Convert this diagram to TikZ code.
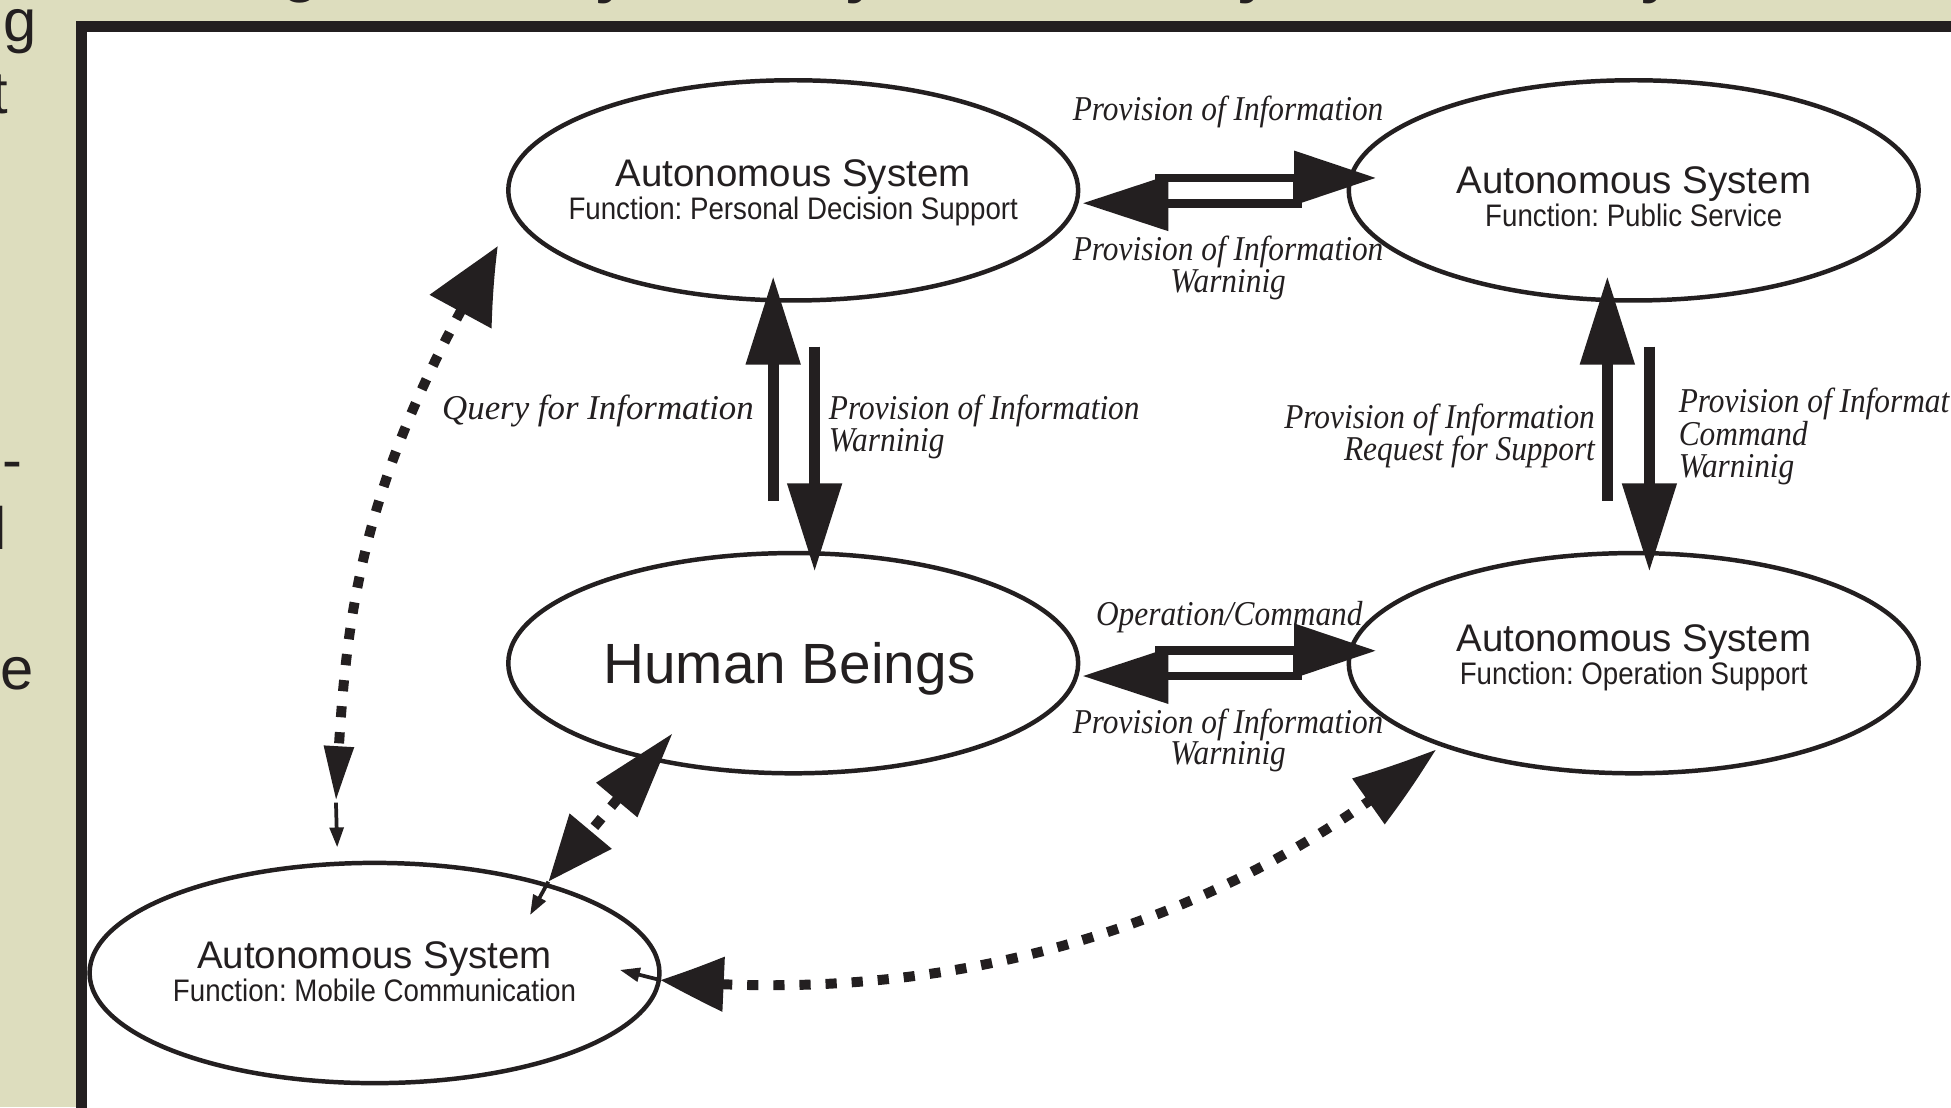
\documentclass[tikz,border=0pt]{standalone}
\usepackage{fontspec}
\setmainfont{Liberation Sans}
\newfontfamily\hsans{Liberation Sans}
\newfontfamily\hcond[FakeStretch=0.89]{Liberation Sans}
\newfontfamily\lserif[FakeStretch=0.9]{Liberation Serif}
\newfontfamily\lserifw{Liberation Serif}
\usetikzlibrary{arrows.meta,bending,shapes.geometric}
\definecolor{ink}{RGB}{35,31,32}
\definecolor{paper}{RGB}{221,221,190}
\newcommand\asys{\hsans\fontsize{30.9}{26.5}\selectfont}
\frenchspacing
\begin{document}
\frenchspacing
\begin{tikzpicture}[x=1pt,y=-1pt,line join=miter,
  sys/.style={ellipse, draw=ink, line width=3.6pt, minimum width=458pt, minimum height=177pt, inner sep=0pt},
  systext/.style={inner sep=0pt, align=center, text=ink, font=\frenchspacing\hcond\fontsize{25}{26.5}\selectfont},
  lbl/.style={inner sep=0pt, text=ink, font=\lserif\itshape\fontsize{28}{26}\selectfont},
  frag/.style={inner sep=0pt, text=ink, font=\hsans\fontsize{48}{57}\selectfont},
  shaft/.style={draw=ink, line width=8.6pt, -{Triangle[length=71pt,width=42pt]}},
  hollow/.style={draw=ink, line width=7pt},
  link/.style={draw=ink, line width=8pt, dash pattern=on 9pt off 12pt},
  spike/.style={draw=ink, line width=3pt, -{Triangle[length=16pt,width=11pt]}}]
\useasboundingbox (0,0) rectangle (1568,890);
\clip (0,0) rectangle (1568,890);
\fill[paper] (0,0) rectangle (1568,890);
\fill[white] (65.3,21) rectangle (1600,950);
\draw[ink, line width=8.7pt] (65.3,950) -- (65.3,21) -- (1600,21);

% cut-off text of the surrounding page
\node[frag, anchor=base east] (fg) at (30,33.5) {g};
\node[frag, anchor=base east] (ft) at (6.9,91) {t};
\node[frag, anchor=base east] (fh) at (18.2,386) {o-};
\node[frag, anchor=base east] (fl) at (6,442) {l};
\node[frag, anchor=base east] (fe) at (27.5,554) {e};
\node[frag, font=\hsans\bfseries\fontsize{48}{57}\selectfont, anchor=base] (t1) at (242,-8) {g};
\node[frag, font=\hsans\bfseries\fontsize{48}{57}\selectfont, anchor=base] (t2) at (492,-7) {y};
\node[frag, font=\hsans\bfseries\fontsize{48}{57}\selectfont, anchor=base] (t3) at (693,-7) {y};
\node[frag, font=\hsans\bfseries\fontsize{48}{57}\selectfont, anchor=base] (t4) at (1008,-7) {y};
\node[frag, font=\hsans\bfseries\fontsize{48}{57}\selectfont, anchor=base] (t5) at (1332,-7) {y};

% systems
\node[sys] (pds) at (637.5,153) {};
\node[sys] (ps) at (1313,153) {};
\node[sys] (hb) at (637.5,533) {};
\node[sys] (os) at (1313,533) {};
\node[sys] (mc) at (301,782) {};
\node[systext] (pdsT) at ([yshift=-2pt]pds.center) {{\asys Autonomous System}\\Function: Personal Decision Support};
\node[systext] (psT) at ([yshift=-5pt]ps.center) {{\asys Autonomous System}\\Function: Public Service};
\node[systext, font=\hsans\fontsize{45.6}{50}\selectfont, text depth=0pt] (hbT) at ([xshift=-3pt]hb.center) {Human Beings};
\node[systext] (osT) at ([yshift=4pt]os.center) {{\asys Autonomous System}\\Function: Operation Support};
\node[systext] (mcT) at ([yshift=1pt]mc.center) {{\asys Autonomous System}\\Function: Mobile Communication};

% labels
\node[lbl, anchor=base] (l1) at (987,97) {Provision of Information};
\node[lbl, anchor=base] (l2a) at (987,209) {Provision of Information};
\node[lbl, anchor=base] (l2b) at (987,235) {Warninig};
\node[lbl, anchor=base east, font=\lserifw\itshape\fontsize{28}{26}\selectfont] (l3) at (606,337) {Query for Information};
\node[lbl, anchor=base west] (l4a) at (666,337) {Provision of Information};
\node[lbl, anchor=base west] (l4b) at (666,363) {Warninig};
\node[lbl, anchor=base east] (l5a) at (1282,344) {Provision of Information};
\node[lbl, anchor=base east] (l5b) at (1282,370.5) {Request for Support};
\node[lbl, anchor=base west] (l6a) at (1349,331.4) {Provision of Information};
\node[lbl, anchor=base west] (l6b) at (1349,358) {Command};
\node[lbl, anchor=base west] (l6c) at (1349,383.6) {Warninig};
\node[lbl, anchor=base] (l7) at (988,503) {Operation/Command};
\node[lbl, anchor=base] (l8a) at (987,589.3) {Provision of Information};
\node[lbl, anchor=base] (l8b) at (987,614.8) {Warninig};

% vertical arrows
\coordinate (a1s) at (621.4,402.7);  \coordinate (a1e) at (621.4,222);
\coordinate (a2s) at (654.7,278.6);  \coordinate (a2e) at (654.7,459.4);
\coordinate (a3s) at (1291.8,402.6); \coordinate (a3e) at (1291.8,222);
\coordinate (a4s) at (1325.6,278.6); \coordinate (a4e) at (1325.6,459.4);
\draw[shaft] (a1s) -- (a1e);
\draw[shaft] (a2s) -- (a2e);
\draw[shaft] (a3s) -- (a3e);
\draw[shaft] (a4s) -- (a4e);

% hollow double arrows
\coordinate (h1a) at (932,163.3);  \coordinate (h1b) at (932,143);  \coordinate (h1t) at (1106,143);
\coordinate (h2a) at (1043,143);   \coordinate (h2b) at (1043,163.3); \coordinate (h2t) at (870,163.3);
\draw[hollow,-{Triangle[length=66pt,width=42pt]}] (h1a) -- (h1b) -- (h1t);
\draw[hollow,-{Triangle[length=69pt,width=43pt]}] (h2a) -- (h2b) -- (h2t);
\coordinate (h3a) at (932,543.3);  \coordinate (h3b) at (932,523);  \coordinate (h3t) at (1106,523);
\coordinate (h4a) at (1043,523);   \coordinate (h4b) at (1043,543.3); \coordinate (h4t) at (870,543.3);
\draw[hollow,-{Triangle[length=66pt,width=42pt]}] (h3a) -- (h3b) -- (h3t);
\draw[hollow,-{Triangle[length=69pt,width=43pt]}] (h4a) -- (h4b) -- (h4t);

% dashed links
\coordinate (d1a) at (400,198); \coordinate (d1b) at (270,645); \coordinate (d1t) at (271,681);
\draw[link,{Triangle[length=63pt,width=54pt,bend]}-{Triangle[length=46pt,width=22pt,bend]}]
  (d1a) .. controls (285,390) and (277,500) .. (d1b);
\draw[spike] (d1b) -- (d1t);
\coordinate (d2a) at (540.6,589.3); \coordinate (d2b) at (440.7,708.6); \coordinate (d2t) at (426,735.4);
\draw[link,{Triangle[length=70pt,width=41pt]}-{Triangle[length=53pt,width=42pt]}] (d2a) -- (d2b);
\draw[spike] (d2b) -- (d2t);
\coordinate (d3a) at (530.5,787.6); \coordinate (d3b) at (1154.2,602.2); \coordinate (d3t) at (498.2,779.5);
\draw[link,{Triangle[length=52pt,width=42pt,bend]}-{Triangle[length=69pt,width=43pt,bend]}]
  (d3a) .. controls (790,812) and (1005,728) .. (d3b);
\draw[spike] (d3a) -- (d3t);
\end{tikzpicture}
\end{document}
